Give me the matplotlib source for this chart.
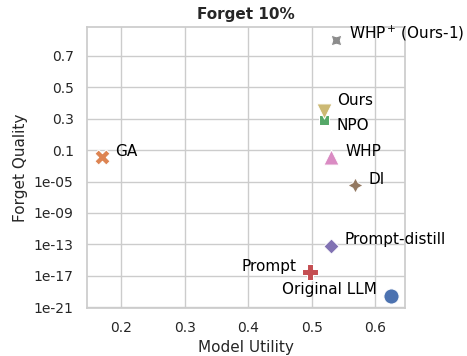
"""
Scatter of forget quality vs model utility (Forget 10%).
"""
import numpy as np
import matplotlib
matplotlib.use("Agg")
import matplotlib.pyplot as plt
import seaborn as sns

methods = ["Original LLM", "GA", "NPO", "Prompt", "Prompt-distill",
           "DI", "WHP", r"WHP$^+\,$(Ours-1)", "Ours"]
model_utility = [0.625, 0.170, 0.520, 0.497, 0.530, 0.569, 0.531, 0.539, 0.519]
forget_quality = [2.7e-20, 0.012, 0.29, 2.8e-17, 7e-14, 3.6e-6, 0.015, 0.80, 0.35]

# label offsets in points (dx, dy) and alignment
label_offsets = [(-10, 4.3), (9.6, 4), (9.1, -3.4), (-9.6, 4), (9.8, 4.1),
                 (9.4, 3.6), (10, 3.8), (9.4, 4.8), (9.9, 7.2)]
label_align = ["right", "left", "left", "right", "left",
               "left", "left", "left", "left"]

ytick_values = [1e-21, 1e-17, 1e-13, 1e-9, 1e-5, 0.1, 0.3, 0.5, 0.7]
ytick_labels = ["1e-21", "1e-17", "1e-13", "1e-09", "1e-05",
                "0.1", "0.3", "0.5", "0.7"]
xtick_values = [0.2, 0.3, 0.4, 0.5, 0.6]


def forward(v):
    v = np.asarray(v, dtype=float)
    safe = np.clip(v, 1e-300, None)
    low = (np.log10(safe) + 21) / 4
    high = 5 + (v - 0.1) / 0.2
    return np.where(v <= 0.1, low, high)


def inverse(y):
    y = np.asarray(y, dtype=float)
    low = 10 ** (y * 4 - 21)
    high = 0.1 + (y - 5) * 0.2
    return np.where(y <= 5, low, high)


sns.set_theme(style="whitegrid")
palette = sns.color_palette("deep")
markers = ["o", "X", (4, 0, 45), "P", (4, 0, 0), (4, 1, 0), "^", (4, 1, 45), "v"]

fig = plt.figure(figsize=(4.67, 3.56), dpi=100)
ax = fig.add_axes([0.186, 0.1357, 0.681, 0.7873])
ax.set_yscale("function", functions=(forward, inverse))

for i, name in enumerate(methods):
    ax.scatter(model_utility[i], forget_quality[i], s=120, marker=markers[i],
               color=palette[i], edgecolor="white", linewidth=0.75, zorder=3)
    ax.annotate(name, (model_utility[i], forget_quality[i]),
                xytext=label_offsets[i], textcoords="offset points",
                ha=label_align[i], va="center", fontsize=11, color="black",
                annotation_clip=False)

ax.set_xlim(0.146, 0.647)
ax.set_ylim(8.3e-22, 0.882)
ax.set_xticks(xtick_values)
ax.set_xticklabels([str(v) for v in xtick_values])
ax.set_yticks(ytick_values)
ax.set_yticklabels(ytick_labels)
ax.minorticks_off()
ax.tick_params(labelsize=10)

ax.set_xlabel("Model Utility", fontsize=11)
ax.set_ylabel("Forget Quality", fontsize=11)
ax.set_title("Forget 10%", fontsize=11, fontweight="bold")

fig.savefig("out.png", dpi=100)
